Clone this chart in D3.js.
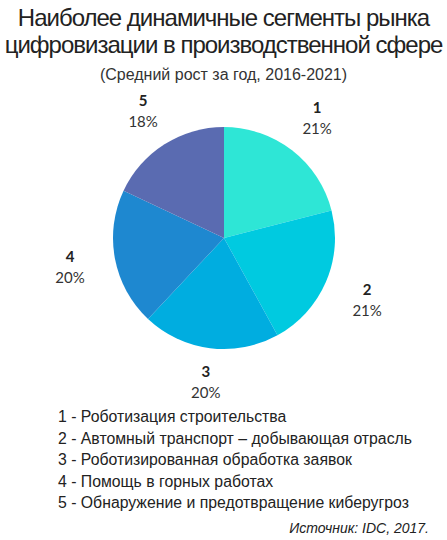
<!DOCTYPE html>
<html>
<head>
<meta charset="utf-8">
<script src="https://cdn.jsdelivr.net/npm/d3@7"></script>
<style>
  html, body { margin: 0; padding: 0; background: #fff; }
  svg { display: block; }
</style>
</head>
<body>
<div id="chart"></div>
<script>
// Data
const segments = ["1", "2", "3", "4", "5"];
const growth = [21, 21, 20, 20, 18];
const segmentNames = [
    "Роботизация строительства",
    "Автомный транспорт – добывающая отрасль",
    "Роботизированная обработка заявок",
    "Помощь в горных работах",
    "Обнаружение и предотвращение киберугроз"
];
const sliceColors = ["#2ee6d6", "#00cae0", "#00ade0", "#1e88d0", "#5a6bb1"];

const width = 447, height = 540;
const cx = 224, cy = 238, radius = 111;

const svg = d3.select("#chart")
    .append("svg")
    .attr("width", width)
    .attr("height", height);

// Title (tight tracking like the original)
const titleLines = [
    { text: "Наиболее динамичные сегменты рынка", y: 26 },
    { text: "цифровизации в производственной сфере", y: 53 }
];

svg.selectAll("text.title")
    .data(titleLines)
    .join("text")
    .attr("class", "title")
    .attr("x", width / 2)
    .attr("y", d => d.y)
    .attr("text-anchor", "middle")
    .attr("font-family", "Liberation Sans, Arial, sans-serif")
    .attr("font-size", "24px")
    .attr("letter-spacing", "-1px")
    .attr("fill", "#222")
    .text(d => d.text);

svg.append("text")
    .attr("x", width / 2)
    .attr("y", 80)
    .attr("text-anchor", "middle")
    .attr("font-family", "Liberation Sans, Arial, sans-serif")
    .attr("font-size", "16px")
    .attr("fill", "#333")
    .text("(Средний рост за год, 2016-2021)");

// Pie
const pie = d3.pie().sort(null).value(d => d);
const arcs = pie(growth);

const arc = d3.arc().innerRadius(0).outerRadius(radius);

// labels sit further out on the sides than at top/bottom
function labelPos(d) {
    const a = (d.startAngle + d.endAngle) / 2;
    const r = 144 + 13 * Math.abs(Math.sin(a));
    return [r * Math.sin(a), -r * Math.cos(a)];
}

const g = svg.append("g")
    .attr("transform", `translate(${cx},${cy})`);

g.selectAll("path")
    .data(arcs)
    .join("path")
    .attr("d", arc)
    .attr("fill", (d, i) => sliceColors[i]);

const label = g.selectAll("g.label")
    .data(arcs)
    .join("g")
    .attr("class", "label")
    .attr("transform", d => `translate(${labelPos(d)})`);

label.append("text")
    .attr("y", -5)
    .attr("text-anchor", "middle")
    .attr("font-family", "Lato, sans-serif")
    .attr("font-weight", "bold")
    .attr("font-size", "15px")
    .attr("fill", "#222")
    .text((d, i) => segments[i]);

label.append("text")
    .attr("y", 16)
    .attr("text-anchor", "middle")
    .attr("font-family", "Lato, sans-serif")
    .attr("font-size", "15px")
    .attr("fill", "#333")
    .text(d => d.value + "%");

// Legend
svg.append("g")
    .selectAll("text")
    .data(segmentNames)
    .join("text")
    .attr("x", 58)
    .attr("y", (d, i) => 422 + i * 21.5)
    .attr("font-family", "Liberation Sans, Arial, sans-serif")
    .attr("font-size", "15.8px")
    .attr("fill", "#222")
    .text((d, i) => segments[i] + " - " + d);

// Source
svg.append("text")
    .attr("x", 429)
    .attr("y", 533)
    .attr("text-anchor", "end")
    .attr("font-family", "Liberation Sans, Arial, sans-serif")
    .attr("font-style", "italic")
    .attr("font-size", "14px")
    .attr("fill", "#222")
    .text("Источник: IDC, 2017.");
</script>
</body>
</html>
